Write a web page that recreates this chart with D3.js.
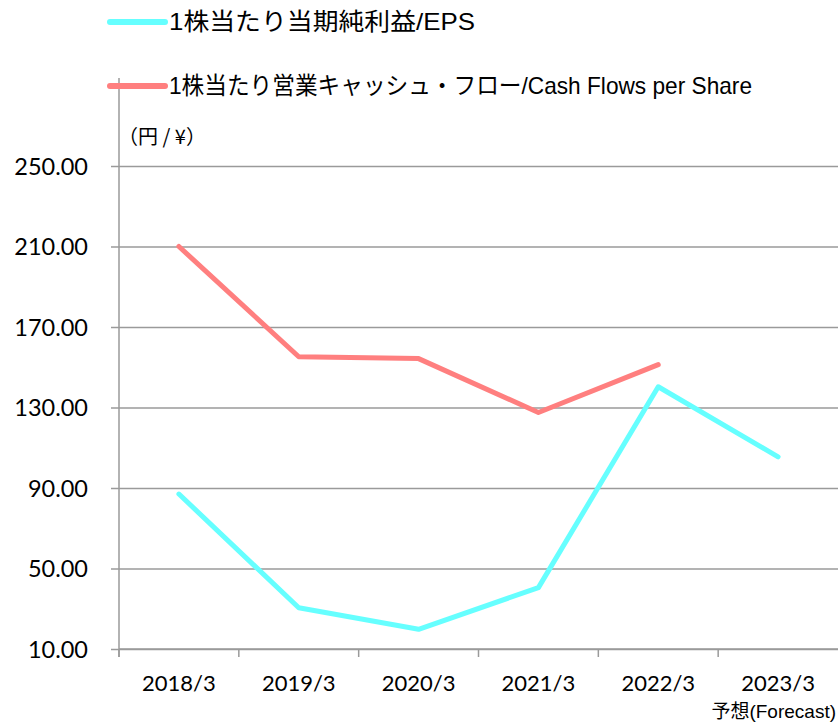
<!DOCTYPE html>
<html>
<head>
<meta charset="utf-8">
<script src="https://cdn.jsdelivr.net/npm/d3@7"></script>
<style>
  body { margin: 0; background: #fff; }
  .narrow { font-family: "Liberation Sans Narrow", "Liberation Sans", "Noto Sans CJK JP", sans-serif; }
</style>
</head>
<body>
<div class="chart"></div>
<script>
var totalWidth = 838;
var totalHeight = 724;

// DATA
var years = ["2018/3", "2019/3", "2020/3", "2021/3", "2022/3", "2023/3"];
var eps = [87.0, 30.5, 19.8, 40.5, 140.3, 105.5];
var cashFlow = [210.0, 155.2, 154.3, 127.5, 151.3, null];
var yTicks = [10, 50, 90, 130, 170, 210, 250];

var series = [
  { name: "1株当たり当期純利益/EPS", values: eps, color: "#66ffff" },
  { name: "1株当たり営業キャッシュ・フロー/Cash Flows per Share", values: cashFlow, color: "#ff7f7f" }
];

var margin = { top: 166, left: 119, bottom: 75, right: 0 };
var width = totalWidth - margin.left - margin.right;
var height = 649 - margin.top;

var xScale = d3.scaleBand().domain(years).range([0, width]);
var yScale = d3.scaleLinear().domain([10, 250]).range([height, 0]);

var svg = d3.select(".chart")
  .append("svg")
  .attr("width", totalWidth)
  .attr("height", totalHeight);

var mainGroup = svg.append("g")
  .attr("transform", "translate(" + margin.left + "," + margin.top + ")");

// y axis with gridlines
var yAxis = d3.axisLeft(yScale)
  .tickValues(yTicks)
  .tickSizeInner(-width)
  .tickSizeOuter(0)
  .tickFormat(d3.format(".2f"));

mainGroup.append("g")
  .attr("class", "yaxis")
  .call(yAxis)
  .call(function(g) {
    g.select(".domain").remove();
    g.selectAll(".tick line").attr("stroke", "#9a9a9a").attr("stroke-width", 1.5);
    g.selectAll(".tick").append("line")
      .attr("x1", -8).attr("x2", 0)
      .attr("stroke", "#9a9a9a").attr("stroke-width", 1.5);
    g.selectAll(".tick text")
      .attr("x", -31)
      .attr("dy", "0.36em")
      .style("font-family", "Lato, 'Open Sans', sans-serif")
      .style("font-size", "23.5px")
      .attr("fill", "#000");
  });

// y axis line
mainGroup.append("line")
  .attr("x1", 0).attr("x2", 0)
  .attr("y1", -88).attr("y2", height + 8)
  .attr("stroke", "#9a9a9a").attr("stroke-width", 1.5);

// x axis
var xAxisGroup = mainGroup.append("g")
  .attr("transform", "translate(0," + height + ")");

xAxisGroup.append("line")
  .attr("x1", 0).attr("x2", width)
  .attr("stroke", "#9a9a9a").attr("stroke-width", 1.5);

xAxisGroup.selectAll(".xtick")
  .data(years)
  .enter()
  .append("line")
  .attr("x1", function(d) { return xScale(d); })
  .attr("x2", function(d) { return xScale(d); })
  .attr("y1", 0).attr("y2", 8)
  .attr("stroke", "#9a9a9a").attr("stroke-width", 1.5);

xAxisGroup.selectAll(".xlabel")
  .data(years)
  .enter()
  .append("text")
  .attr("x", function(d) { return xScale(d) + xScale.bandwidth() / 2; })
  .attr("y", 42)
  .attr("text-anchor", "middle")
  .style("font-family", "Lato, 'Open Sans', sans-serif")
  .style("font-size", "22px")
  .text(function(d) { return d; });

xAxisGroup.append("text")
  .attr("class", "narrow")
  .attr("x", width - 2)
  .attr("y", 69)
  .attr("text-anchor", "end")
  .style("font-size", "19px")
  .text("予想(Forecast)");

// unit label
svg.append("text")
  .attr("x", 118)
  .attr("y", 144)
  .style("font-family", "'Noto Sans CJK JP', sans-serif")
  .style("font-size", "20px")
  .text("（円 / ¥）");

// lines
var line = d3.line()
  .defined(function(d) { return d != null; })
  .x(function(d, i) { return xScale(years[i]) + xScale.bandwidth() / 2; })
  .y(function(d) { return yScale(d); });

mainGroup.selectAll(".series")
  .data(series)
  .enter()
  .append("path")
  .attr("fill", "none")
  .attr("stroke", function(d) { return d.color; })
  .attr("stroke-width", 5)
  .attr("stroke-linejoin", "round")
  .attr("stroke-linecap", "round")
  .attr("d", function(d) { return line(d.values); });

// legend
var legendTextWidth = [306, 583];
var legend = svg.append("g");
var legendItem = legend.selectAll("g")
  .data(series)
  .enter()
  .append("g")
  .attr("transform", function(d, i) { return "translate(0," + (22 + i * 64) + ")"; });

legendItem.append("line")
  .attr("x1", 110).attr("x2", 165)
  .attr("stroke", function(d) { return d.color; })
  .attr("stroke-width", 6)
  .attr("stroke-linecap", "round");

legendItem.append("text")
  .attr("class", "narrow")
  .attr("x", 169)
  .attr("y", 8)
  .attr("textLength", function(d, i) { return legendTextWidth[i]; })
  .attr("lengthAdjust", "spacingAndGlyphs")
  .style("font-size", "24px")
  .text(function(d) { return d.name; });
</script>
</body>
</html>
